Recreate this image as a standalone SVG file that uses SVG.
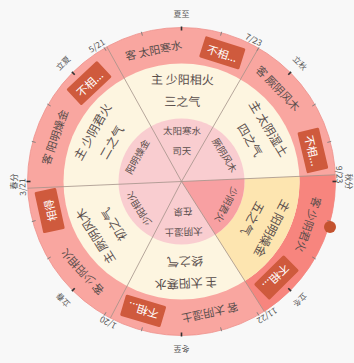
<svg xmlns="http://www.w3.org/2000/svg" width="354" height="363" viewBox="0 0 354 363">
<style>
text{font-family:"Noto Sans CJK SC","Noto Sans",sans-serif;fill:#5a4e4c;text-anchor:middle;dominant-baseline:central}
.ke{font-size:11px}
.zhu{font-size:12px}
.inn{font-size:9.5px}
.lab{font-size:8px;fill:#555}
.dt{font-size:8.5px;fill:#555}
.bt{font-size:11px;fill:#fff}
.badge{fill:#cf5a3d}
.div{stroke:#a39289;stroke-width:0.8;fill:none}
.tk{stroke:#777;stroke-width:0.8}
.tkb{stroke:#333;stroke-width:1.6}
</style>
<rect width="354" height="363" fill="#f8f8f8"/>
<g id="rings">
<circle cx="181.5" cy="181.5" r="154" fill="#f9a6a0" stroke="#ee918b" stroke-width="0.8"/>
<path d="M335.35,174.78 A154,154 0 0 1 264.24,311.38 L244.90,281.02 A118,118 0 0 0 299.39,176.35 Z" fill="#f7857e"/>
<circle cx="181.5" cy="181.5" r="118" fill="#fdf5e0"/>
<path d="M299.39,176.35 A118,118 0 0 1 244.90,281.02 L215.35,234.63 A63,63 0 0 0 244.44,178.75 Z" fill="#fde5b0"/>
<circle cx="181.5" cy="181.5" r="63" fill="#f9cdd0"/>
<path d="M181.5,181.5 L244.44,178.75 A63,63 0 0 1 215.35,234.63 Z" fill="#f8a0a2"/>
</g>
<g id="connectors">
<line class="div" x1="181.5" y1="181.5" x2="335.35" y2="174.78"/>
<line class="div" x1="181.5" y1="181.5" x2="264.24" y2="311.38"/>
<line class="div" x1="181.5" y1="181.5" x2="110.39" y2="318.10"/>
<line class="div" x1="181.5" y1="181.5" x2="27.65" y2="188.22"/>
<line class="div" x1="181.5" y1="181.5" x2="106.84" y2="46.81"/>
<line class="div" x1="181.5" y1="181.5" x2="258.5" y2="48.13"/>
</g>
<g id="ticks" transform="translate(181.5,181.5)">
<g class="tk">
<line x1="0" y1="-151" x2="0" y2="-155" transform="rotate(15)"/>
<line x1="0" y1="-151" x2="0" y2="-155" transform="rotate(30)"/>
<line x1="0" y1="-151" x2="0" y2="-155" transform="rotate(60)"/>
<line x1="0" y1="-151" x2="0" y2="-155" transform="rotate(75)"/>
<line x1="0" y1="-151" x2="0" y2="-155" transform="rotate(105)"/>
<line x1="0" y1="-151" x2="0" y2="-155" transform="rotate(120)"/>
<line x1="0" y1="-151" x2="0" y2="-155" transform="rotate(150)"/>
<line x1="0" y1="-151" x2="0" y2="-155" transform="rotate(165)"/>
<line x1="0" y1="-151" x2="0" y2="-155" transform="rotate(195)"/>
<line x1="0" y1="-151" x2="0" y2="-155" transform="rotate(210)"/>
<line x1="0" y1="-151" x2="0" y2="-155" transform="rotate(240)"/>
<line x1="0" y1="-151" x2="0" y2="-155" transform="rotate(255)"/>
<line x1="0" y1="-151" x2="0" y2="-155" transform="rotate(285)"/>
<line x1="0" y1="-151" x2="0" y2="-155" transform="rotate(300)"/>
<line x1="0" y1="-151" x2="0" y2="-155" transform="rotate(330)"/>
<line x1="0" y1="-151" x2="0" y2="-155" transform="rotate(345)"/>
</g>
<g class="tkb">
<line x1="0" y1="-151" x2="0" y2="-155"/>
<line x1="0" y1="-151" x2="0" y2="-155" transform="rotate(45)"/>
<line x1="0" y1="-151" x2="0" y2="-155" transform="rotate(90)"/>
<line x1="0" y1="-151" x2="0" y2="-155" transform="rotate(135)"/>
<line x1="0" y1="-151" x2="0" y2="-155" transform="rotate(180)"/>
<line x1="0" y1="-151" x2="0" y2="-155" transform="rotate(225)"/>
<line x1="0" y1="-151" x2="0" y2="-155" transform="rotate(270)"/>
<line x1="0" y1="-151" x2="0" y2="-155" transform="rotate(315)"/>
</g>
</g>
<g id="terms" transform="translate(181.5,181.5)">
<text class="lab" transform="rotate(0) translate(0,-168)">夏至</text>
<text class="lab" transform="rotate(45) translate(0,-168)">立秋</text>
<text class="lab" transform="rotate(90) translate(0,-168)">秋分</text>
<text class="lab" transform="rotate(135) translate(0,-168)">立冬</text>
<text class="lab" transform="rotate(180) translate(0,-168)">冬至</text>
<text class="lab" transform="rotate(225) translate(0,-168)">立春</text>
<text class="lab" transform="rotate(270) translate(0,-168)">春分</text>
<text class="lab" transform="rotate(315) translate(0,-168)">立夏</text>
</g>
<g id="dates" transform="translate(181.5,181.5)">
<text class="dt" transform="rotate(87.5) translate(0,-159)">9/23</text>
<text class="dt" transform="rotate(147.5) translate(0,-160)">11/22</text>
<text class="dt" transform="rotate(207.5) translate(0,-160)">1/20</text>
<text class="dt" transform="rotate(268) translate(0,-160)">3/21</text>
<text class="dt" transform="rotate(328) translate(0,-161)">5/21</text>
<text class="dt" transform="rotate(27) translate(0,-160)">7/23</text>
</g>
<g id="sector-A" transform="translate(181.5,181.5)">
<text class="ke" transform="rotate(348) translate(0,-135)">客 太阳寒水</text>
<g transform="rotate(17.6) translate(0,-135)"><rect class="badge" x="-21" y="-11" width="42" height="22" rx="1.5"/><text class="bt">不相...</text></g>
<text class="zhu" transform="rotate(0.5) translate(0,-103)">主 少阳相火</text>
<text class="zhu" transform="rotate(0.5) translate(0,-81)">三之气</text>
<text class="inn" transform="rotate(0.5) translate(0,-51)">太阳寒水</text>
<text class="inn" transform="rotate(0.5) translate(0,-31)">司天</text>
</g>
<g id="sector-B" transform="translate(181.5,181.5)">
<text class="ke" transform="rotate(46) translate(0,-135)">客 厥阴风木</text>
<g transform="rotate(76.7) translate(0,-135)"><rect class="badge" x="-21" y="-11" width="42" height="22" rx="1.5"/><text class="bt">不相...</text></g>
<text class="zhu" transform="rotate(58.75) translate(0,-103)">主 太阴湿土</text>
<text class="zhu" transform="rotate(58.75) translate(0,-81)">四之气</text>
<text class="inn" transform="rotate(58.75) translate(0,-51)">厥阴风木</text>
</g>
<g id="sector-C" transform="translate(181.5,181.5)">
<text class="ke" transform="rotate(108.7) translate(0,-135)">客 少阴君火</text>
<g transform="rotate(135.3) translate(0,-135)"><rect class="badge" x="-21" y="-11" width="42" height="22" rx="1.5"/><text class="bt">不相...</text></g>
<text class="zhu" transform="rotate(117.5) translate(0,-103)">主 阳明燥金</text>
<text class="zhu" transform="rotate(117.5) translate(0,-81)">五之气</text>
<text class="inn" transform="rotate(117.5) translate(0,-51)">少阴君火</text>
</g>
<g id="sector-D" transform="translate(181.5,181.5)">
<text class="ke" transform="rotate(167.8) translate(0,-135)">客 太阴湿土</text>
<g transform="rotate(196.5) translate(0,-135)"><rect class="badge" x="-21" y="-11" width="42" height="22" rx="1.5"/><text class="bt">不相...</text></g>
<text class="zhu" transform="rotate(177.5) translate(0,-103)">主 太阳寒水</text>
<text class="zhu" transform="rotate(177.5) translate(0,-81)">终之气</text>
<text class="inn" transform="rotate(177.5) translate(0,-51)">太阴湿土</text>
<text class="inn" transform="rotate(177.5) translate(0,-31)">在泉</text>
</g>
<g id="sector-E" transform="translate(181.5,181.5)">
<text class="ke" transform="rotate(227.7) translate(0,-135)">客 少阳相火</text>
<g transform="rotate(257.6) translate(0,-135)"><rect class="badge" x="-21" y="-11" width="42" height="22" rx="1.5"/><text class="bt">相得</text></g>
<text class="zhu" transform="rotate(237.5) translate(0,-103)">主 厥阴风木</text>
<text class="zhu" transform="rotate(237.5) translate(0,-81)">初之气</text>
<text class="inn" transform="rotate(237.5) translate(0,-51)">少阳相火</text>
</g>
<g id="sector-F" transform="translate(181.5,181.5)">
<text class="ke" transform="rotate(289.3) translate(0,-135)">客 阳明燥金</text>
<g transform="rotate(316.8) translate(0,-135)"><rect class="badge" x="-21" y="-11" width="42" height="22" rx="1.5"/><text class="bt">不相...</text></g>
<text class="zhu" transform="rotate(299.25) translate(0,-103)">主 少阴君火</text>
<text class="zhu" transform="rotate(299.25) translate(0,-81)">二之气</text>
<text class="inn" transform="rotate(299.25) translate(0,-51)">阳明燥金</text>
</g>
<g id="marker">
<circle cx="330" cy="227" r="6" fill="#c4532f"/>
</g>
</svg>
